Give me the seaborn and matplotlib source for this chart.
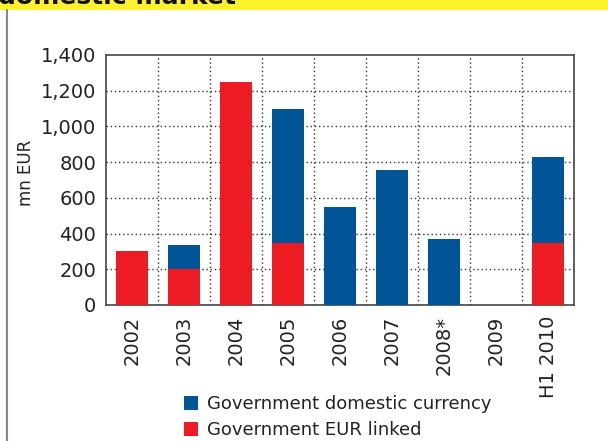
import matplotlib
matplotlib.use("Agg")
import matplotlib.pyplot as plt
import seaborn as sns
import pandas as pd
from matplotlib.patches import Patch
from matplotlib.lines import Line2D

# values (mn EUR)
years = ["2002", "2003", "2004", "2005", "2006", "2007", "2008*", "2009", "H1 2010"]
eur_linked = [300, 200, 1250, 345, 0, 0, 0, 0, 345]
domestic = [0, 135, 0, 755, 550, 755, 370, 0, 485]

BLUE = "#005596"
RED = "#ED1C24"
YELLOW = "#FFF22D"

df = pd.DataFrame({"year": years, "eur": eur_linked, "dom": domestic})
df["total"] = df["eur"] + df["dom"]

sns.set_style("white")
plt.rcParams["font.family"] = ["DejaVu Sans"]

fig = plt.figure(figsize=(6.08, 4.41), dpi=100)
fig.subplots_adjust(left=106 / 608, right=574 / 608, top=1 - 55 / 441, bottom=1 - 305 / 441)
ax = fig.add_subplot(111)

# stacked look: totals in blue, EUR linked part drawn over it in red
sns.barplot(data=df, x="year", y="total", color=BLUE, width=0.6, saturation=1,
            linewidth=0, ax=ax, zorder=3)
sns.barplot(data=df, x="year", y="eur", color=RED, width=0.6, saturation=1,
            linewidth=0, ax=ax, zorder=4)

ax.set_ylim(0, 1400)
ax.set_xlim(-0.5, len(years) - 0.5)
ax.set_yticks(range(0, 1401, 200))
ax.set_yticklabels([f"{v:,}" for v in range(0, 1401, 200)])
ax.set_xlabel("")
ax.set_ylabel("mn EUR", fontsize=12, color="#222222")
ax.yaxis.set_label_coords(-71 / 468, 0.53)

# dotted grid: horizontal at ticks, vertical between categories
for v in range(200, 1400, 200):
    ax.axhline(v, color="#333333", lw=1, ls=(0, (1, 2)), zorder=1)
for i in range(1, len(years)):
    ax.axvline(i - 0.5, color="#333333", lw=1, ls=(0, (1, 2)), zorder=1)

ax.tick_params(axis="both", length=0, labelsize=14, labelcolor="#222222")
ax.tick_params(axis="y", pad=7)
ax.tick_params(axis="x", pad=8)
plt.setp(ax.get_xticklabels(), rotation=90, va="top", ha="center")
for s in ax.spines.values():
    s.set_color("#444444")
    s.set_linewidth(1.2)

handles = [Patch(facecolor=BLUE, edgecolor="none"), Patch(facecolor=RED, edgecolor="none")]
fig.legend(handles, ["Government domestic currency", "Government EUR linked"],
           loc="upper left", bbox_to_anchor=(184 / 608, 1 - 395 / 441),
           frameon=False, fontsize=13, handlelength=0.8, handleheight=0.8,
           handletextpad=0.45, labelspacing=0.45, borderpad=0, borderaxespad=0,
           labelcolor="#222222")

# page decoration: yellow header band with clipped title, grey rule on the left
fig.patches.append(plt.Rectangle((0, 1 - 10 / 441), 1, 10 / 441, transform=fig.transFigure,
                                 facecolor=YELLOW, edgecolor="none", zorder=0))
fig.text(-0.004, 1 - 4 / 441, "domestic market", fontsize=18, fontweight="bold",
         va="baseline", ha="left", color="#111111")
fig.lines.append(Line2D([7 / 608, 7 / 608], [0, 1 - 10 / 441], transform=fig.transFigure,
                        color="#888888", lw=1.5))

fig.savefig("out.png", dpi=100)
